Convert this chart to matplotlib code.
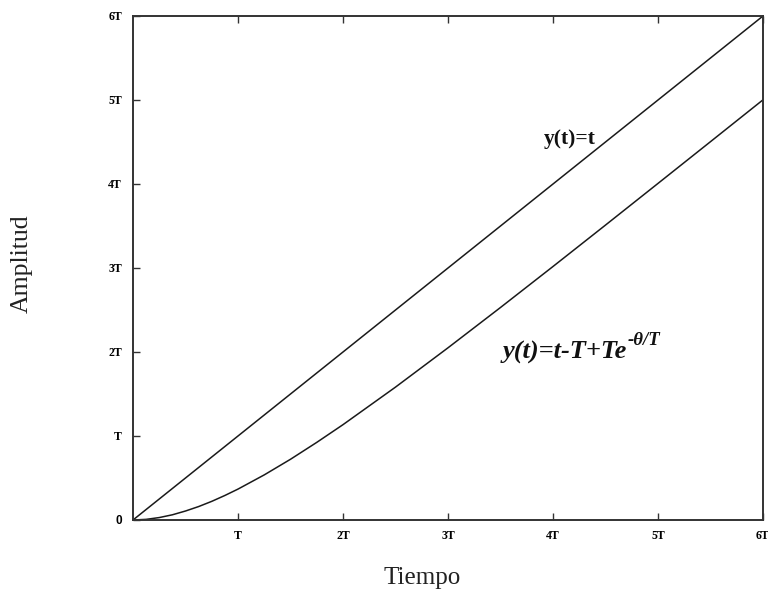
import matplotlib
matplotlib.use("Agg")
import matplotlib.pyplot as plt

# Data (in units of T)
t_values = [0, 0.125, 0.25, 0.375, 0.5, 0.625, 0.75, 0.875, 1.0, 1.25, 1.5, 1.75, 2.0,
            2.5, 3.0, 3.5, 4.0, 4.5, 5.0, 5.5, 6.0]
ramp_values = [0, 0.125, 0.25, 0.375, 0.5, 0.625, 0.75, 0.875, 1.0, 1.25, 1.5, 1.75, 2.0,
               2.5, 3.0, 3.5, 4.0, 4.5, 5.0, 5.5, 6.0]
response_values = [0, 0.0075, 0.029, 0.062, 0.107, 0.160, 0.222, 0.292, 0.368, 0.537, 0.723,
                   0.924, 1.135, 1.582, 2.050, 2.530, 3.018, 3.511, 4.007, 4.504, 5.002]
tick_positions = [0, 1, 2, 3, 4, 5, 6]
tick_labels = ["0", "T", "2T", "3T", "4T", "5T", "6T"]

fig = plt.figure(figsize=(7.68, 5.95), dpi=100)
ax = fig.add_axes([133/768, 75/595, 630/768, 504/595])

line_color = "#1a1a1a"
ax.plot(t_values, ramp_values, color=line_color, lw=1.1)
ax.plot(t_values, response_values, color=line_color, lw=1.1)

ax.set_xlim(0, 6)
ax.set_ylim(0, 6)

for s in ax.spines.values():
    s.set_linewidth(1.4)
    s.set_color("#333333")

ax.set_xticks(tick_positions[1:])
ax.set_xticklabels(tick_labels[1:])
ax.set_yticks(tick_positions)
ax.set_yticklabels(tick_labels)
ax.tick_params(direction='in', length=5, width=1.0, color="#333333",
               top=True, right=False, labelsize=8.5)
ax.tick_params(axis='x', pad=7)
ax.tick_params(axis='y', pad=8)
for lab in ax.get_xticklabels() + ax.get_yticklabels():
    lab.set_fontfamily('Liberation Serif')
    lab.set_fontweight('bold')
ax.get_yticklabels()[0].set_fontfamily('Liberation Sans')

fig.text(422/768, 1 - 578/595, "Tiempo", family='Liberation Serif', fontsize=18,
         ha='center', va='center', color="#222222")
fig.text(22/768, 1 - 264/595, "Amplitud", family='Liberation Serif', fontsize=18.5,
         ha='center', va='center', rotation=90, color="#222222")

ax.text((570-133)/630*6, (520-139)/504*6, "y(t)=t", family='Liberation Serif', fontweight='bold',
        fontsize=15.5, ha='center', va='center', color="#111111")
main = ax.text((503-133)/630*6, (520-352)/504*6, "y(t)=t-T+Te", family='Liberation Serif',
               fontweight='bold', fontstyle='italic', fontsize=19, ha='left', va='center',
               color="#111111")
ax.annotate("-θ/T", xy=(1.0, 0.62), xycoords=main, family='Liberation Serif',
            fontweight='bold', fontstyle='italic', fontsize=13.5, ha='left', va='bottom',
            color="#111111")

fig.savefig("out.png", dpi=100)
